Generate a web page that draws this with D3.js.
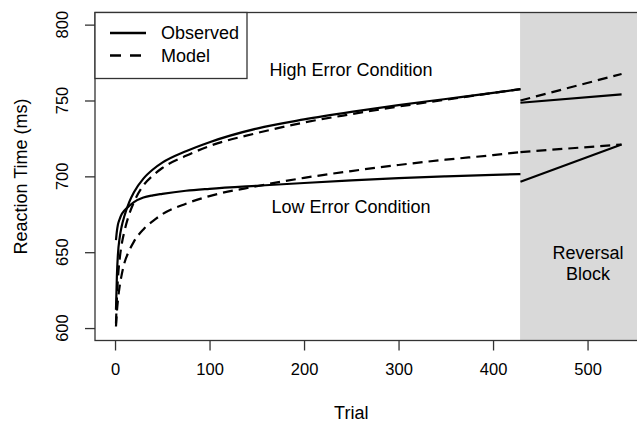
<!DOCTYPE html>
<html lang="en">
<head>
	<meta charset="utf-8">
	<title>Reaction time by trial</title>
	<script src="https://d3js.org/d3.v7.min.js"></script>
	<style>
	body { margin: 0; background: #fff; }
	text { font-family: "Liberation Sans", Arial, Helvetica, sans-serif; fill: #000; }
	</style>
</head>
<body>
<script>
// trials sampled along the learning curves (before reversal)
var trials = [1, 2, 3, 5, 7, 10, 15, 20, 30, 40, 50, 75, 100, 150, 200, 250, 300, 350, 400, 429];
var highObserved = [612, 635, 648, 660, 667, 674, 683, 689.5, 698.5, 704.5, 709, 716.5, 722.5, 731.5, 737.5, 742.5, 747, 751, 755, 757.5];
var highModel    = [603, 620, 632, 646, 655, 664, 675, 683, 694, 700.5, 705.5, 713.5, 720, 728.5, 735.5, 741, 746, 750.5, 755, 757.5];
var lowObserved  = [658, 664, 668, 672, 675, 677.5, 680.5, 683, 686, 687.5, 688.5, 690.5, 691.8, 693.8, 695.6, 697.3, 698.8, 700, 701, 701.5];
var lowModel     = [601, 611, 618, 628, 635, 643, 651, 657, 665, 670.5, 675, 682, 687, 693.5, 699, 703.5, 707.5, 711, 714, 716];

// reversal block (straight segments)
var revTrials = [429, 536];
var highObservedRev = [748.5, 754];
var highModelRev    = [750, 767.5];
var lowObservedRev  = [696.5, 721];
var lowModelRev     = [716, 721];

var xTicks = [0, 100, 200, 300, 400, 500];
var yTicks = [600, 650, 700, 750, 800];
var reversalStart = 428.6;

var w = 637, h = 427;
// plot region edges
var pLeft = 95, pTop = 12.5, pRight = 640, pBottom = 340.5;

var x = d3.scaleLinear().domain([-21.2, 555.5]).range([pLeft, pRight]);
var y = d3.scaleLinear().domain([591.8, 808]).range([pBottom, pTop]);

var svg = d3.select("body").append("svg")
	.attr("width", w)
	.attr("height", h);

// grey reversal area
svg.append("rect")
	.attr("x", x(reversalStart))
	.attr("y", pTop)
	.attr("width", pRight - x(reversalStart))
	.attr("height", pBottom - pTop)
	.attr("fill", "#d9d9d9");

function series(xs, ys) {
	return xs.map(function(d, i) { return [d, ys[i]]; });
}

var line = d3.line()
	.x(function(d) { return x(d[0]); })
	.y(function(d) { return y(d[1]); })
	.curve(d3.curveMonotoneX);

var curves = [
	{ pts: series(trials, lowModel), dash: true },
	{ pts: series(trials, highModel), dash: true },
	{ pts: series(trials, lowObserved), dash: false },
	{ pts: series(trials, highObserved), dash: false },
	{ pts: series(revTrials, lowModelRev), dash: true },
	{ pts: series(revTrials, highModelRev), dash: true },
	{ pts: series(revTrials, lowObservedRev), dash: false },
	{ pts: series(revTrials, highObservedRev), dash: false }
];

svg.selectAll("path.curve")
	.data(curves)
	.enter()
	.append("path")
	.attr("class", "curve")
	.attr("d", function(d) { return line(d.pts); })
	.attr("fill", "none")
	.attr("stroke", "#000")
	.attr("stroke-width", 2.2)
	.attr("stroke-dasharray", function(d) { return d.dash ? "10,6" : null; });

// box
svg.append("rect")
	.attr("x", pLeft)
	.attr("y", pTop)
	.attr("width", pRight - pLeft)
	.attr("height", pBottom - pTop)
	.attr("fill", "none")
	.attr("stroke", "#333")
	.attr("stroke-width", 1.3);

// x axis
var xAxis = svg.append("g")
	.attr("transform", "translate(0," + pBottom + ")")
	.call(d3.axisBottom(x).tickValues(xTicks).tickSize(10).tickPadding(13));
xAxis.select(".domain").remove();
xAxis.selectAll("line").attr("stroke", "#333").attr("stroke-width", 1.3);
xAxis.selectAll("text").attr("font-size", 16.5).attr("font-family", "'Liberation Sans', Arial, sans-serif");

// y axis, labels turned like R's default
var yAxis = svg.append("g")
	.attr("transform", "translate(" + pLeft + ",0)")
	.call(d3.axisLeft(y).tickValues(yTicks).tickSize(10).tickFormat(""));
yAxis.select(".domain").remove();
yAxis.selectAll("line").attr("stroke", "#333").attr("stroke-width", 1.3);

svg.selectAll("text.ylab")
	.data(yTicks)
	.enter()
	.append("text")
	.attr("class", "ylab")
	.attr("transform", function(d) { return "translate(68," + y(d) + ") rotate(-90)"; })
	.attr("text-anchor", "middle")
	.attr("font-size", 16.5)
	.text(function(d) { return d; });

// axis titles
svg.append("text")
	.attr("x", x(250))
	.attr("y", 419)
	.attr("text-anchor", "middle")
	.attr("font-size", 18)
	.text("Trial");

svg.append("text")
	.attr("transform", "translate(27," + ((pTop + pBottom) / 2) + ") rotate(-90)")
	.attr("text-anchor", "middle")
	.attr("font-size", 18)
	.text("Reaction Time (ms)");

// annotations
svg.append("text")
	.attr("x", 351).attr("y", 76)
	.attr("text-anchor", "middle")
	.attr("font-size", 18)
	.text("High Error Condition");

svg.append("text")
	.attr("x", 351).attr("y", 213)
	.attr("text-anchor", "middle")
	.attr("font-size", 18)
	.text("Low Error Condition");

svg.append("text")
	.attr("x", 588).attr("y", 259)
	.attr("text-anchor", "middle")
	.attr("font-size", 18)
	.text("Reversal");

svg.append("text")
	.attr("x", 588).attr("y", 280)
	.attr("text-anchor", "middle")
	.attr("font-size", 18)
	.text("Block");

// legend
var legendItems = [{ label: "Observed", dash: false }, { label: "Model", dash: true }];
var legend = svg.append("g");
legend.append("rect")
	.attr("x", pLeft)
	.attr("y", pTop)
	.attr("width", 152)
	.attr("height", 66)
	.attr("fill", "#fff")
	.attr("stroke", "#333")
	.attr("stroke-width", 1.3);

var items = legend.selectAll("g.item")
	.data(legendItems)
	.enter()
	.append("g")
	.attr("transform", function(d, i) { return "translate(0," + (33 + i * 22.5) + ")"; });

items.append("line")
	.attr("x1", 110).attr("x2", 146)
	.attr("y1", 0).attr("y2", 0)
	.attr("stroke", "#000")
	.attr("stroke-width", 2.5)
	.attr("stroke-dasharray", function(d) { return d.dash ? "11,9" : null; });

items.append("text")
	.attr("x", 161)
	.attr("y", 6)
	.attr("font-size", 18)
	.text(function(d) { return d.label; });
</script>
</body>
</html>
